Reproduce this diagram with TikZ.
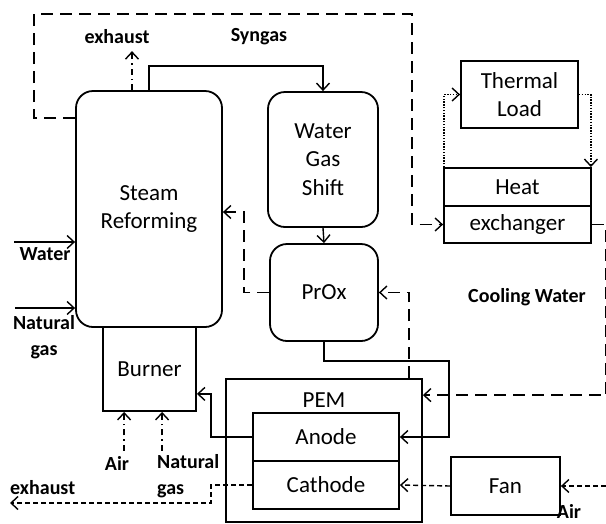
\documentclass[tikz,border=0pt]{standalone}
\usepackage{fontspec}
\setmainfont{Carlito}
\usetikzlibrary{arrows.meta,calc}
\begin{document}
\begin{tikzpicture}[x=1pt,y=-1pt,
 >={Straight Barb[length=7pt,width=13pt,line width=1.4pt]},
 box/.style={draw,line width=1.8pt,align=center,font=\fontsize{23}{28.5}\selectfont,inner sep=0pt},
 rbox/.style={box,rounded corners=17pt},
 plain/.style={align=center,font=\fontsize{23}{28.5}\selectfont,inner sep=0pt},
 lab/.style={font=\fontsize{20}{26}\selectfont\bfseries,align=center,inner sep=0pt},
 conn/.style={line width=1.4pt},
 bigdash/.style={conn,dash pattern=on 12pt off 7pt},
 smalldash/.style={conn,dash pattern=on 5pt off 3pt},
 dashdotx/.style={conn,dash pattern=on 6pt off 4pt on 1.5pt off 4pt},
 dotx/.style={conn,dash pattern=on 1.4pt off 1.4pt}]
\useasboundingbox (0,0) rectangle (606,523);

% boxes
\node[box,minimum width=93pt,minimum height=84pt] (burner) at (149.5,369) {Burner};
\node[rbox,fill=white,minimum width=146pt,minimum height=236pt] (sr) at (149,209) {Steam\\Reforming};
\node[rbox,minimum width=110pt,minimum height=135pt] (wgs) at (323,159.5) {Water\\Gas\\Shift};
\node[rbox,minimum width=108pt,minimum height=97pt] (prox) at (324,292.5) {PrOx};
\node[box,minimum width=196pt,minimum height=143pt] (pem) at (324,450.5) {};
\node[plain] (pemlab) at (324,400) {PEM};
\node[box,minimum width=146pt,minimum height=48pt] (anode) at (326,437) {Anode};
\node[box,minimum width=146pt,minimum height=48pt] (cathode) at (326,485) {Cathode};
\node[box,minimum width=109pt,minimum height=58pt] (fan) at (505.5,486) {Fan};
\node[box,minimum width=147pt,minimum height=38pt] (heat) at (517.5,187) {Heat};
\node[box,minimum width=147pt,minimum height=37pt] (exch) at (517.5,224.5) {exchanger};
\node[box,minimum width=117pt,minimum height=67pt] (tl) at (519.5,94.5) {Thermal\\Load};

% labels
\node[lab] (lexh1) at (117,37) {exhaust};
\node[lab] (lsyn) at (259,37) {Syngas};
\node[lab] (lwater) at (45,254) {Water};
\node[lab] (lng1) at (44,337) {Natural\\gas};
\node[lab] (lair1) at (117,463) {Air};
\node[lab,align=left,anchor=west] (lng2) at (157,476) {Natural\\gas};
\node[lab,anchor=west] (lexh2) at (10,488) {exhaust};
\node[lab] (lcool) at (527,297) {Cooling Water};
\node[lab] (lair2) at (569,511) {Air};

% free ends
\coordinate (wstart) at (14,242);
\coordinate (nstart) at (15,308);
\coordinate (exend) at (10,503);
\coordinate (airstart) at (606,486);

% connectors
\draw[conn,->] (sr.north) -- ++(0,-24) -| (wgs.north);
\draw[dashdotx,->] ($(sr.north)+(-17,0)$) -- ++(0,-39);
\draw[conn,->] (wgs.south) -- (prox.north);
\draw[bigdash,->] (prox.west) -- ++(-25,0) |- ($(sr.east)+(0,3)$);
\draw[conn,->] (prox.south) |- ++(125,19) |- (anode.east);
\draw[bigdash,->] ($(pem.north)+(85,0)$) |- (prox.east);
\draw[conn,->] (anode.west) -- ++(-41,0) |- ($(burner.south east)+(0,-18)$);
\draw[smalldash,->] (cathode.west) -- ++(-41,0) -- ++(0,18) -- (exend);
\draw[smalldash,->] (fan.west) -- (cathode.east);
\draw[smalldash,->] (airstart) -- (fan.east);
\draw[dashdotx,->] ($(burner.south west)+(22,39)$) -- ($(burner.south west)+(22,0)$);
\draw[dashdotx,->] ($(burner.south west)+(60,39)$) -- ($(burner.south west)+(60,0)$);
\draw[conn,->] (wstart) -- (wstart -| sr.west);
\draw[conn,->] (nstart) -- (nstart -| sr.west);
\draw[bigdash,->] ($(sr.north west)+(0,28)$) -- ++(-41,0) -- ++(0,-104) -- ++(378,0) |- (exch.west);
\draw[dotx,->] ($(heat.north west)+(1,0)$) |- (tl.west);
\draw[dotx,->] (tl.east) -| ($(heat.north east)+(-1,0)$);
\draw[bigdash,->] (exch.east) -- ++(14,0) |- ($(pem.north east)+(0,17)$);
\end{tikzpicture}
\end{document}
